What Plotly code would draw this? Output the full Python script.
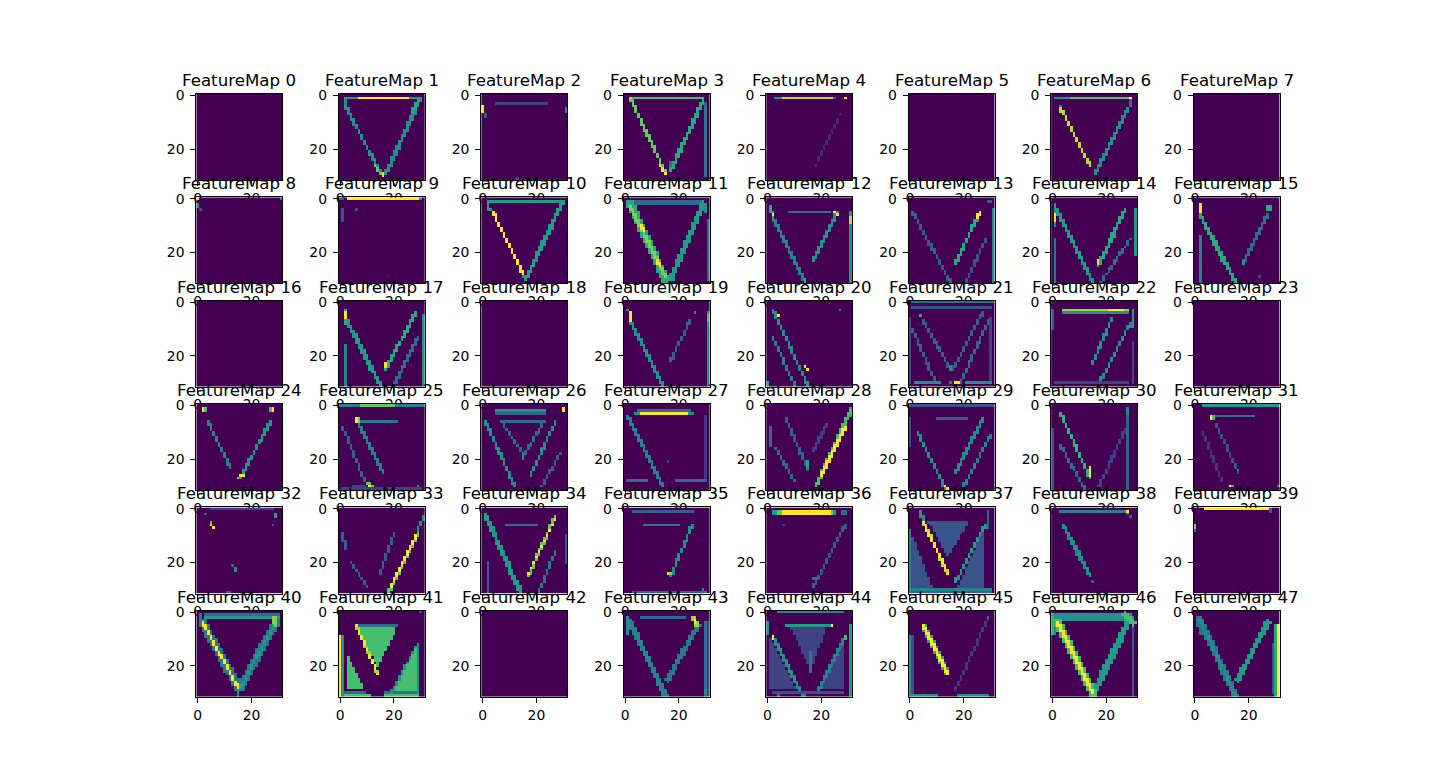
import numpy as np
import plotly.graph_objects as go

# 48 feature maps (32x32 each), 8 per row, 6 rows
n_maps = 48
n_cols = 8
size = 32
titles = [f"FeatureMap {i}" for i in range(n_maps)]
tick_vals = [0, 20]

# strokes: (map, col0, row0, col1, row1, value, width in cells)
strokes = [
    # map 1
    (1, 2, 1, 30, 1, 0.55, 1), (1, 7, 1, 25, 1, 1.0, 1), (1, 2, 1, 2, 4, 0.5, 1),
    (1, 2, 4, 15, 29, 0.5, 1.2), (1, 13, 26, 15, 29, 0.75, 1), (1, 30, 1, 17, 29, 0.5, 1.5),
    (1, 29, 2, 27, 6, 0.6, 1), (1, 16, 29, 16, 30, 1.0, 1),
    # map 2
    (2, 0, 4, 0, 6, 1.0, 1), (2, 5, 3, 24, 3, 0.2, 1), (2, 31, 5, 31, 6, 0.45, 1),
    (2, 13, 31, 13, 31, 0.25, 1), (2, 1, 7, 1, 8, 0.3, 1),
    # map 3
    (3, 2, 1, 29, 1, 0.7, 1), (3, 2, 1, 2, 1, 0.9, 1), (3, 2, 1, 15, 29, 0.75, 1.2),
    (3, 13, 26, 15, 29, 1.0, 1), (3, 29, 2, 17, 28, 0.6, 1.5), (3, 17, 25, 17, 28, 0.35, 1),
    (3, 30, 4, 30, 30, 0.4, 1), (3, 29, 1, 30, 4, 0.3, 1),
    # map 4
    (4, 3, 1, 5, 1, 0.5, 1), (4, 6, 1, 24, 1, 0.9, 1), (4, 25, 1, 25, 1, 0.35, 1),
    (4, 29, 1, 29, 1, 1.0, 1), (4, 27, 7, 18, 26, 0.12, 0.8),
    # map 6
    (6, 1, 1, 6, 1, 0.5, 1), (6, 7, 1, 28, 1, 0.72, 1), (6, 29, 1, 29, 1, 1.0, 1),
    (6, 29, 2, 29, 4, 0.35, 1), (6, 3, 4, 3, 4, 0.4, 1), (6, 3, 5, 14, 26, 0.9, 1),
    (6, 28, 5, 16, 29, 0.5, 1),
    # map 8
    (8, 0, 0, 0, 0, 1.0, 1), (8, 0, 2, 0, 3, 0.5, 1), (8, 31, 0, 31, 0, 0.45, 1),
    (8, 1, 4, 1, 4, 0.25, 1),
    # map 9
    (9, 3, 0, 29, 0, 1.0, 1), (9, 30, 0, 30, 0, 0.5, 1), (9, 1, 4, 1, 8, 0.25, 1),
    (9, 6, 4, 6, 4, 0.25, 1), (9, 0, 0, 1, 0, 0.3, 1),
    # map 10
    (10, 2, 1, 30, 1, 0.5, 1), (10, 2, 1, 2, 4, 0.5, 1), (10, 2, 3, 4, 5, 0.5, 1),
    (10, 4, 5, 15, 28, 0.9, 1), (10, 30, 1, 16, 30, 0.5, 1.5), (10, 15, 29, 16, 30, 0.4, 1),
    # map 11
    (11, 2, 1.5, 29, 1.5, 0.35, 2), (11, 2, 2, 15, 30, 0.6, 3), (11, 2, 3, 15, 29, 0.8, 1),
    (11, 6, 10, 7, 12, 1.0, 1), (11, 12, 23, 13, 25, 1.0, 1),
    (11, 29, 2, 17, 30, 0.55, 2), (11, 31, 8, 31, 30, 0.35, 1), (11, 29, 1, 30, 5, 0.5, 1),
    # map 12
    (12, 1, 3, 2, 7, 0.6, 1), (12, 2, 6, 2, 6, 1.0, 1), (12, 2, 7, 14, 31, 0.45, 1),
    (12, 14, 30, 14, 31, 0.65, 1), (12, 8, 5, 23, 5, 0.35, 1), (12, 26, 5, 17, 23, 0.5, 1),
    (12, 25, 5, 26, 6, 1.0, 1), (12, 31, 5, 31, 31, 0.5, 1), (12, 31, 7, 31, 9, 0.9, 1),
    # map 13
    (13, 1, 5, 15, 31, 0.3, 1), (13, 26, 5, 17, 24, 0.6, 1.2), (13, 26, 5, 25, 7, 1.0, 1),
    (13, 28, 15, 21, 31, 0.25, 1), (13, 31, 4, 31, 31, 0.45, 1), (13, 29, 1, 30, 1, 0.3, 1),
    # map 14
    (14, 1, 2, 1, 10, 0.5, 1), (14, 1, 6, 1, 8, 1.0, 1), (14, 1, 3, 15, 31, 0.55, 1.6),
    (14, 1, 15, 1, 31, 0.4, 1), (14, 27, 4, 17, 25, 0.6, 1.4), (14, 17, 23, 17, 24, 1.0, 1),
    (14, 29, 15, 18, 31, 0.35, 1), (14, 31, 4, 31, 21, 0.55, 1),
    # map 15
    (15, 2, 2, 2, 5, 1.0, 1), (15, 2, 6, 15, 31, 0.6, 1.5), (15, 2, 14, 2, 31, 0.45, 1),
    (15, 27, 3, 28, 4, 0.6, 1.5), (15, 27, 6, 18, 24, 0.35, 1), (15, 18, 23, 18, 24, 0.5, 1),
    (15, 24, 29, 24, 29, 0.2, 1),
    # map 17
    (17, 2, 3, 2, 8, 0.6, 1), (17, 2, 4, 2, 6, 1.0, 1), (17, 2, 6, 15, 31, 0.55, 1.6),
    (17, 2, 16, 2, 31, 0.45, 1), (17, 28, 4, 17, 25, 0.6, 1.3), (17, 17, 23, 17, 24, 1.0, 1),
    (17, 29, 13, 20, 31, 0.35, 1), (17, 31, 5, 31, 31, 0.5, 1),
    # map 19
    (19, 2, 4, 2, 7, 1.0, 1), (19, 1, 3, 1, 3, 0.5, 1), (19, 2, 7, 14, 31, 0.5, 1),
    (19, 26, 4, 26, 4, 0.5, 1), (19, 24, 7, 17, 22, 0.3, 1), (19, 31, 4, 31, 31, 0.5, 1),
    (19, 31, 5, 31, 7, 0.7, 1),
    # map 20
    (20, 2, 3, 15, 31, 0.5, 1), (20, 4, 5, 4, 5, 1.0, 1), (20, 14, 24, 15, 25, 1.0, 1),
    (20, 2, 13, 10, 31, 0.45, 1), (20, 27, 3, 27, 3, 0.5, 1), (20, 0, 30, 0, 31, 0.6, 1),
    # map 21
    (21, 1, 0, 31, 0, 0.35, 1), (21, 1, 2, 30, 2, 0.25, 1), (21, 4, 5, 4, 5, 0.6, 1),
    (21, 5, 7, 15, 25, 0.3, 1), (21, 27, 4, 16, 25, 0.3, 1), (21, 1, 10, 9, 29, 0.3, 1),
    (21, 29, 7, 19, 30, 0.35, 1), (21, 2, 30, 11, 30, 0.5, 1), (21, 17, 30, 18, 30, 1.0, 1),
    (21, 21, 30, 30, 30, 0.5, 1), (21, 15, 30, 15, 30, 0.4, 1), (21, 15, 24, 15, 25, 0.5, 1),
    (21, 0, 6, 0, 30, 0.2, 1), (21, 30, 6, 30, 30, 0.2, 1),
    # map 22
    (22, 4, 3, 28, 3, 0.85, 1), (22, 21, 3, 26, 3, 1.0, 1), (22, 4, 4, 28, 4, 0.5, 1),
    (22, 30, 3, 30, 9, 0.55, 1), (22, 0, 3, 0, 10, 0.3, 1), (22, 22, 6, 15, 23, 0.5, 1),
    (22, 29, 8, 18, 29, 0.5, 1), (22, 1, 30, 28, 30, 0.2, 1), (22, 30, 15, 30, 30, 0.2, 1),
    # map 24
    (24, 2, 1, 2, 2, 1.0, 1), (24, 3, 1, 3, 2, 0.7, 1), (24, 27, 1, 27, 2, 0.7, 1),
    (24, 28, 1, 28, 2, 1.0, 1), (24, 4, 6, 12, 23, 0.45, 1), (24, 27, 6, 16, 27, 0.55, 1.2),
    (24, 16, 26, 17, 26, 1.0, 1), (24, 15, 27, 15, 27, 0.8, 1),
    # map 25
    (25, 0, 0, 31, 0, 0.45, 1), (25, 8, 0, 20, 0, 0.75, 1), (25, 6, 5, 6, 6, 1.0, 1),
    (25, 7, 5, 7, 6, 0.8, 1), (25, 8, 6, 21, 6, 0.4, 1), (25, 7, 7, 16, 25, 0.45, 1),
    (25, 1, 8, 9, 28, 0.3, 1), (25, 10, 29, 12, 30, 0.75, 1), (25, 11, 30, 11, 30, 1.0, 1),
    (25, 29, 30, 29, 30, 0.5, 1), (25, 1, 31, 30, 31, 0.2, 1), (25, 5, 30, 9, 30, 0.2, 1),
    # map 26
    (26, 5, 2, 23, 2, 0.5, 1), (26, 5, 3, 23, 3, 0.3, 1), (26, 30, 1, 30, 2, 1.0, 1),
    (26, 8, 6, 22, 6, 0.35, 1), (26, 7, 6, 15, 18, 0.35, 1), (26, 23, 6, 15, 19, 0.35, 1),
    (26, 15, 18, 15, 20, 0.5, 1), (26, 1, 6, 12, 30, 0.5, 1.2), (26, 27, 6, 18, 26, 0.5, 1),
    (26, 29, 18, 22, 30, 0.3, 1),
    # map 27
    (27, 5, 2, 24, 2, 0.35, 1), (27, 6, 3, 23, 3, 1.0, 1), (27, 4, 3, 5, 3, 0.5, 1),
    (27, 24, 3, 25, 3, 0.5, 1), (27, 1, 4, 14, 30, 0.45, 1.2), (27, 1, 28, 8, 28, 0.35, 1),
    (27, 19, 28, 30, 28, 0.35, 1), (27, 16, 21, 16, 21, 0.2, 1), (27, 30, 4, 30, 28, 0.15, 1),
    # map 28
    (28, 1, 8, 1, 15, 0.35, 1), (28, 7, 5, 15, 24, 0.3, 1), (28, 15, 21, 15, 23, 0.55, 1),
    (28, 3, 16, 10, 28, 0.35, 1), (28, 31, 2, 18, 30, 0.7, 1.5), (28, 29, 8, 20, 26, 1.0, 1),
    (28, 22, 7, 17, 17, 0.2, 1), (28, 31, 1, 31, 4, 0.6, 1),
    # map 29
    (29, 0, 0, 31, 0, 0.25, 1), (29, 10, 5, 21, 5, 0.3, 1), (29, 3, 10, 13, 31, 0.5, 1),
    (29, 13, 30, 14, 31, 1.0, 1), (29, 27, 5, 17, 25, 0.5, 1), (29, 30, 11, 20, 30, 0.45, 1),
    (29, 0, 5, 0, 15, 0.2, 1),
    # map 30
    (30, 3, 3, 14, 27, 0.65, 1), (30, 14, 23, 14, 26, 1.0, 1), (30, 3, 15, 12, 31, 0.35, 1),
    (30, 0, 9, 0, 31, 0.25, 1), (30, 28, 1, 28, 31, 0.3, 1), (30, 28, 1, 28, 3, 0.45, 1),
    (30, 27, 9, 17, 31, 0.2, 1),
    # map 31
    (31, 3, 0, 31, 0, 0.55, 1), (31, 6, 4, 6, 5, 1.0, 1), (31, 7, 4, 7, 5, 0.7, 1),
    (31, 8, 4, 22, 4, 0.35, 1), (31, 8, 7, 16, 25, 0.25, 1), (31, 16, 24, 16, 24, 0.5, 1),
    (31, 13, 30, 13, 30, 1.0, 1), (31, 14, 30, 14, 30, 0.7, 1), (31, 31, 30, 31, 30, 0.5, 1),
    (31, 3, 10, 10, 28, 0.15, 1),
    # map 32
    (32, 5, 0, 28, 0, 0.2, 1), (32, 5, 5, 5, 5, 0.7, 1), (32, 5, 6, 5, 6, 1.0, 1),
    (32, 6, 7, 6, 7, 1.0, 1), (32, 29, 2, 29, 3, 0.55, 1), (32, 28, 6, 28, 6, 0.3, 1),
    (32, 3, 2, 3, 2, 0.3, 1), (32, 14, 22, 14, 23, 0.5, 1), (32, 13, 21, 13, 21, 0.3, 1),
    (32, 11, 31, 12, 31, 0.3, 1),
    # map 33
    (33, 29, 9, 18, 31, 0.75, 1.5), (33, 28, 10, 19, 29, 1.0, 0.9), (33, 31, 3, 29, 8, 0.5, 1),
    (33, 20, 9, 15, 24, 0.3, 1), (33, 1, 9, 2, 15, 0.3, 1), (33, 4, 20, 10, 29, 0.3, 1),
    # map 34
    (34, 1, 2, 14, 31, 0.55, 1.7), (34, 9, 6, 20, 6, 0.35, 1), (34, 27, 3, 17, 25, 0.75, 1.3),
    (34, 27, 4, 17, 24, 1.0, 0.8), (34, 27, 16, 21, 31, 0.4, 1), (34, 2, 20, 2, 31, 0.3, 1),
    (34, 31, 10, 31, 20, 0.3, 1),
    # map 35
    (35, 3, 1, 25, 1, 0.3, 1), (35, 7, 6, 20, 6, 0.4, 1), (35, 25, 6, 17, 25, 0.5, 1.1),
    (35, 16, 24, 16, 24, 1.0, 1), (35, 17, 24, 17, 24, 0.8, 1), (35, 3, 31, 30, 31, 0.3, 1),
    (35, 29, 30, 30, 31, 0.5, 1),
    # map 36
    (36, 2, 1.5, 25, 1.5, 0.55, 2), (36, 4, 1.5, 24, 1.5, 0.75, 2), (36, 6, 1.5, 23, 1.5, 1.0, 2),
    (36, 28, 1, 29, 2, 0.35, 1.5), (36, 29, 6, 17, 29, 0.3, 1), (36, 17, 26, 18, 26, 0.4, 1),
    (36, 6, 6, 6, 6, 0.15, 1),
    # map 37
    (37, 5, 5, 14, 24, 0.9, 1.2), (37, 5, 5, 14, 24, 1.0, 0.8), (37, 0, 8, 0, 31, 0.45, 1),
    (37, 28, 6, 17, 27, 0.55, 1), (37, 29, 1, 29, 7, 0.3, 1), (37, 4, 1, 5, 5, 0.5, 1),
    (37, 0, 30, 30, 30, 0.45, 1), (37, 0, 31, 30, 31, 0.3, 1),
    # map 38
    (38, 3, 1, 27, 1, 0.45, 1), (38, 28, 1, 28, 1, 1.0, 1), (38, 28, 2, 29, 3, 0.3, 1),
    (38, 4, 6, 14, 25, 0.5, 1.5), (38, 15, 27, 15, 27, 0.3, 1),
    # map 39
    (39, 4, 0, 27, 0, 1.0, 1), (39, 28, 0, 28, 1, 0.3, 1), (39, 0, 6, 0, 7, 0.8, 1),
    (39, 0, 8, 0, 8, 0.3, 1),
    # map 40
    (40, 3, 2, 30, 2, 0.55, 1), (40, 3, 1, 30, 1, 0.35, 1), (40, 28, 2, 28, 4, 0.8, 1),
    (40, 29, 2, 29, 5, 0.8, 1), (40, 2, 4, 15, 28, 0.4, 3.2), (40, 2, 4, 15, 28, 1.0, 1),
    (40, 29, 4, 16, 28, 0.4, 3), (40, 29, 4, 16, 28, 0.55, 1), (40, 15, 28, 15, 31, 0.5, 1),
    (40, 1, 1, 2, 5, 0.35, 1),
    # map 41
    (41, 0, 9, 0, 31, 1.0, 1), (41, 1, 9, 1, 31, 0.5, 1), (41, 6, 5, 14, 23, 0.85, 1.2),
    (41, 6, 5, 14, 23, 1.0, 0.7), (41, 6, 5, 21, 5, 0.35, 1), (41, 2, 30, 9, 30, 0.35, 1),
    (41, 2, 31, 11, 31, 0.7, 1), (41, 29, 12, 19, 30, 0.5, 1), (41, 29, 12, 29, 31, 0.5, 1),
    (41, 17, 30, 29, 30, 0.35, 1), (41, 17, 31, 29, 31, 0.7, 1), (41, 30, 0, 30, 0, 0.3, 1),
    # map 43
    (43, 6, 2, 22, 2, 0.35, 1), (43, 25, 2, 27, 5, 0.85, 1.8), (43, 26, 3, 26, 4, 1.0, 1),
    (43, 2, 4, 15, 31, 0.45, 2), (43, 27, 5, 16, 25, 0.4, 2), (43, 1, 2, 1, 8, 0.5, 1),
    (43, 30, 4, 30, 31, 0.35, 1), (43, 31, 4, 31, 31, 0.2, 1), (43, 30, 29, 30, 30, 0.5, 1),
    # map 44
    (44, 4, 0, 28, 0, 0.45, 1), (44, 7, 5, 24, 5, 0.55, 1), (44, 24, 5, 24, 5, 1.0, 1),
    (44, 16, 15, 16, 22, 0.4, 1), (44, 2, 9, 12, 29, 0.5, 1), (44, 2, 9, 2, 10, 1.0, 1),
    (44, 29, 9, 19, 29, 0.45, 1), (44, 29, 9, 29, 10, 0.7, 1), (44, 31, 5, 31, 31, 0.55, 1),
    (44, 0, 4, 0, 8, 0.5, 1), (44, 2, 30, 28, 30, 0.25, 1), (44, 13, 31, 14, 31, 0.5, 1),
    (44, 4, 31, 4, 31, 0.4, 1),
    # map 45
    (45, 5, 5, 14, 23, 0.6, 1.8), (45, 5, 5, 14, 23, 1.0, 1), (45, 0, 9, 0, 31, 0.5, 1),
    (45, 1, 9, 1, 31, 0.25, 1), (45, 0, 31, 10, 31, 0.5, 1), (45, 18, 31, 29, 31, 0.5, 1),
    (45, 29, 2, 17, 29, 0.15, 1), (45, 29, 2, 29, 2, 0.3, 1),
    # map 46
    (46, 1, 2, 29, 2, 0.5, 2.5), (46, 27, 1, 30, 4, 0.7, 2), (46, 2, 4, 15, 30, 0.7, 3.5),
    (46, 2, 4, 15, 30, 1.0, 1.6), (46, 28, 4, 16, 29, 0.55, 2.5), (46, 0, 1, 0, 8, 0.65, 1),
    (46, 1, 1, 1, 8, 0.5, 1), (46, 30, 5, 30, 31, 0.25, 1), (46, 15, 29, 16, 31, 0.5, 1),
    # map 47
    (47, 2, 3, 15, 31, 0.4, 2.5), (47, 2, 3, 15, 31, 0.5, 1), (47, 27, 4, 16, 25, 0.55, 2),
    (47, 31, 5, 31, 31, 1.0, 1), (47, 30, 5, 30, 31, 0.6, 1), (47, 1, 2, 2, 8, 0.35, 1),
    (47, 29, 12, 29, 30, 0.25, 1),
]

# filled areas: (map, polygon vertices (col, row), value)
fills = [
    (37, [(7, 5), (22, 5), (14, 18)], 0.27),
    (37, [(1, 10), (9, 31), (1, 31)], 0.25),
    (37, [(28, 6), (28, 31), (17, 31)], 0.25),
    (41, [(7, 6), (21, 6), (14, 21)], 0.7),
    (41, [(3, 16), (3, 29), (9, 29)], 0.7),
    (41, [(29, 12), (29, 30), (20, 30)], 0.7),
    (44, [(9, 6), (22, 6), (16, 22)], 0.2),
    (44, [(1, 9), (1, 29), (11, 29)], 0.2),
    (44, [(29, 9), (29, 29), (19, 29)], 0.2),
]

cc, rr = np.meshgrid(np.arange(size), np.arange(size))


def seg_dist(c0, r0, c1, r1):
    dc, dr = c1 - c0, r1 - r0
    L = dc * dc + dr * dr
    t = 0 if L == 0 else np.clip(((cc - c0) * dc + (rr - r0) * dr) / L, 0, 1)
    return np.hypot(cc - (c0 + t * dc), rr - (r0 + t * dr))


def in_poly(pts):
    inside = np.zeros(cc.shape, bool)
    n = len(pts)
    for k in range(n):
        x0, y0 = pts[k]
        x1, y1 = pts[(k + 1) % n]
        if y0 == y1:
            continue
        cond = (rr >= min(y0, y1)) & (rr < max(y0, y1))
        xint = x0 + (rr - y0) * (x1 - x0) / (y1 - y0)
        inside ^= cond & (cc < xint)
    return inside


maps = [np.zeros((size, size)) for _ in range(n_maps)]
for m, pts, v in fills:
    maps[m] = np.where(in_poly(pts), np.maximum(maps[m], v), maps[m])
for m, c0, r0, c1, r1, v, w in strokes:
    mask = seg_dist(c0, r0, c1, r1) <= w / 2 + 1e-6
    maps[m] = np.where(mask, np.maximum(maps[m], v), maps[m])

# matplotlib-like grid geometry, in window pixels; the page body adds an 8px margin
WIN_W, WIN_H = 1440, 783
off = 8
W, H = WIN_W - 2 * off, WIN_H - 2 * off
cell_w = (0.9 - 0.125) * WIN_W / (n_cols + 0.2 * (n_cols - 1))
img = (0.88 - 0.11) * WIN_H / (6 + 0.2 * 5)

fig = go.Figure()
annotations = []
axis_common = dict(
    tickvals=tick_vals, ticks="outside", ticklen=5, tickwidth=1, tickcolor="black",
    showline=True, linecolor="black", linewidth=1, mirror=True,
    showgrid=False, zeroline=False, tickfont=dict(size=13.9, color="black"),
)
for i in range(n_maps):
    r, c = divmod(i, n_cols)
    left = 0.125 * WIN_W + c * cell_w * 1.2 + (cell_w - img) / 2 - off
    top = 0.12 * WIN_H + r * img * 1.2 - off
    xd = [left / W, (left + img) / W]
    yd = [1 - (top + img) / H, 1 - top / H]
    sfx = "" if i == 0 else str(i + 1)
    z = maps[i]
    fig.add_trace(go.Heatmap(
        z=z, x=list(range(size)), y=list(range(size)),
        colorscale="Viridis", zmin=0, zmax=z.max() if z.max() > 0 else 1,
        showscale=False, xaxis="x" + sfx, yaxis="y" + sfx))
    fig.update_layout({
        "xaxis" + sfx: dict(domain=xd, range=[-0.5, size - 0.5], anchor="y" + sfx, **axis_common),
        "yaxis" + sfx: dict(domain=yd, range=[size - 0.5, -0.5], anchor="x" + sfx,
                            ticklabelstandoff=3, **axis_common),
    })
    annotations.append(dict(
        text=titles[i], x=(xd[0] + xd[1]) / 2, y=yd[1], xref="paper", yref="paper",
        xanchor="center", yanchor="bottom", yshift=2, showarrow=False,
        font=dict(size=16.67, color="black")))

fig.update_layout(
    width=W, height=H, template="none",
    margin=dict(l=0, r=0, t=0, b=0),
    paper_bgcolor="white", plot_bgcolor="white",
    font=dict(family="DejaVu Sans"),
    annotations=annotations,
)
fig.write_html("out.html")
